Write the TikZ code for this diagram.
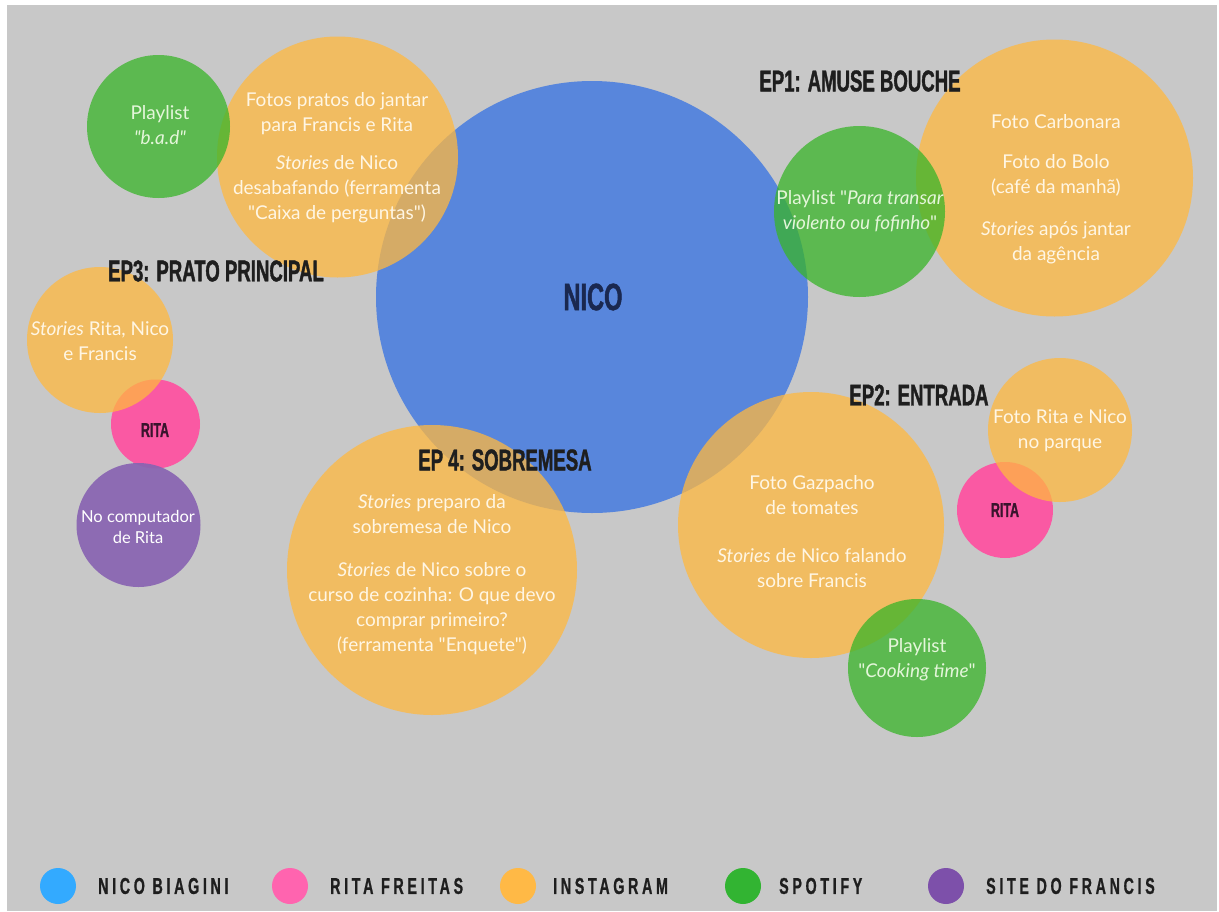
\documentclass[tikz,border=0pt]{standalone}
\usepackage{fontspec}
\newfontfamily\notefont{Lato}
\newfontfamily\headfont[FakeStretch=0.62,FakeBold=1.2]{Liberation Sans}
\newfontfamily\keyfont[FakeStretch=0.62,FakeBold=0.8,LetterSpace=16]{Liberation Sans}

\definecolor{paper}{RGB}{200,200,200}
\definecolor{nicoblue}{RGB}{51,112,227}
\definecolor{instaorange}{RGB}{255,184,63}
\definecolor{spotgreen}{RGB}{56,180,40}
\definecolor{ritapink}{RGB}{255,80,160}
\definecolor{sitepurple}{RGB}{136,100,178}
\definecolor{cream}{RGB}{255,246,228}
\definecolor{mint}{RGB}{228,246,218}
\definecolor{ink}{RGB}{30,30,30}
\definecolor{navy}{RGB}{26,40,80}
\definecolor{plum}{RGB}{58,20,45}
% legend dots
\definecolor{keyblue}{RGB}{51,170,255}
\definecolor{keypink}{RGB}{255,100,175}
\definecolor{keyorange}{RGB}{255,185,70}
\definecolor{keygreen}{RGB}{50,180,50}
\definecolor{keypurple}{RGB}{125,80,170}

\begin{document}
\begin{tikzpicture}[x=1pt, y=-1pt,
  bubble/.style = {circle, inner sep=0pt, fill=#1, fill opacity=0.75},
  solid bubble/.style = {circle, inner sep=0pt, fill=#1, fill opacity=0.92},
  note/.style = {align=center, text=cream, inner sep=0pt,
    font=\notefont\fontsize{19}{25}\selectfont},
  epname/.style = {text=ink, inner sep=0pt,
    font=\headfont\bfseries\fontsize{30}{30}\selectfont},
  who/.style = {inner sep=0pt, font=\headfont\bfseries\fontsize{20}{20}\selectfont}]

  % page
  \fill[white] (0,0) rectangle (1219,911);
  \fill[paper] (7,5) rectangle (1217,911);

  % centre
  \node[bubble=nicoblue, minimum size=432] (nico) at (592,297) {};

  % rita
  \node[solid bubble=ritapink, minimum size=89] (rita3) at (155.5,424) {};
  \node[solid bubble=ritapink, minimum size=96] (rita2) at (1005,510) {};

  % instagram
  \node[bubble=instaorange, minimum size=241] (insta3a) at (337.5,157) {};
  \node[bubble=instaorange, minimum size=146] (insta3b) at (100,340) {};
  \node[bubble=instaorange, minimum size=290] (insta4) at (432,570) {};
  \node[bubble=instaorange, minimum size=266] (insta2a) at (811,525) {};
  \node[bubble=instaorange, minimum size=144] (insta2b) at (1060,430) {};
  \node[bubble=instaorange, minimum size=277] (insta1) at (1054.5,178) {};

  % spotify
  \node[bubble=spotgreen, minimum size=143] (spot3) at (158.5,126.5) {};
  \node[bubble=spotgreen, minimum size=171] (spot1) at (859.5,211.5) {};
  \node[bubble=spotgreen, minimum size=138] (spot2) at (917,668) {};

  % site
  \node[solid bubble=sitepurple, minimum size=124] (site3) at (138.5,525) {};

  % texts
  \node[note, text=mint] (spot3 txt) at (160,125) {Playlist\\\textit{"b.a.d"}};
  \node[note] (insta3a txt) at (337,157.5)
    {Fotos pratos do jantar\\para Francis e Rita\\[13pt]
     \textit{Stories} de Nico\\desabafando (ferramenta\\"Caixa de perguntas")};
  \node[note] (insta1 txt) at (1056,189)
    {Foto Carbonara\\[15pt]Foto do Bolo\\(café da manhã)\\[17pt]
     \textit{Stories} após jantar\\da agência};
  \node[note, text=mint] (spot1 txt) at (860,211.5)
    {Playlist "\textit{Para transar}\\\textit{violento ou fofinho}"};
  \node[note] (insta3b txt) at (100,341) {\textit{Stories} Rita, Nico\\e Francis};
  \node[note, text=white, font=\notefont\fontsize{16.5}{21}\selectfont]
    (site3 txt) at (138,527) {No computador\\de Rita};
  \node[note] (insta4 txt) at (432,575)
    {\textit{Stories} preparo da\\sobremesa de Nico\\[18pt]
     \textit{Stories} de Nico sobre o\\curso de cozinha: O que devo\\
     comprar primeiro?\\(ferramenta "Enquete")};
  \node[note] (insta2a txt) at (812,532)
    {Foto Gazpacho\\de tomates\\[23pt]\textit{Stories} de Nico falando\\sobre Francis};
  \node[note] (insta2b txt) at (1060,430.5) {Foto Rita e Nico\\no parque};
  \node[note, text=mint] (spot2 txt) at (917,659.5)
    {Playlist\\"\textit{Cooking time}"};

  % names
  \node[who, text=navy, font=\headfont\bfseries\fontsize{38}{38}\selectfont]
    (nico txt) at (593,297) {NICO};
  \node[who, text=plum] (rita3 txt) at (155,430) {RITA};
  \node[who, text=plum] (rita2 txt) at (1005,510) {RITA};

  % episodes
  \node[epname] (ep1) at (860,81) {EP1: AMUSE BOUCHE};
  \node[epname] (ep2) at (919,395) {EP2: ENTRADA};
  \node[epname] (ep3) at (216,271) {EP3: PRATO PRINCIPAL};
  \node[epname] (ep4) at (505,460) {EP 4: SOBREMESA};

  % legend
  \foreach \dx/\tx/\col/\lbl [count=\i] in {58/98/keyblue/NICO BIAGINI,
      290/330/keypink/RITA FREITAS, 518/553/keyorange/INSTAGRAM,
      743/779/keygreen/SPOTIFY, 946/986/keypurple/SITE DO FRANCIS}{
    \node[circle, fill=\col, minimum size=36, inner sep=0pt] (dot\i) at (\dx,886) {};
    \node[anchor=west, inner sep=0pt, text=ink,
      font=\keyfont\bfseries\fontsize{23}{23}\selectfont] (key\i) at (\tx,886) {\lbl};
  }
\end{tikzpicture}
\end{document}
